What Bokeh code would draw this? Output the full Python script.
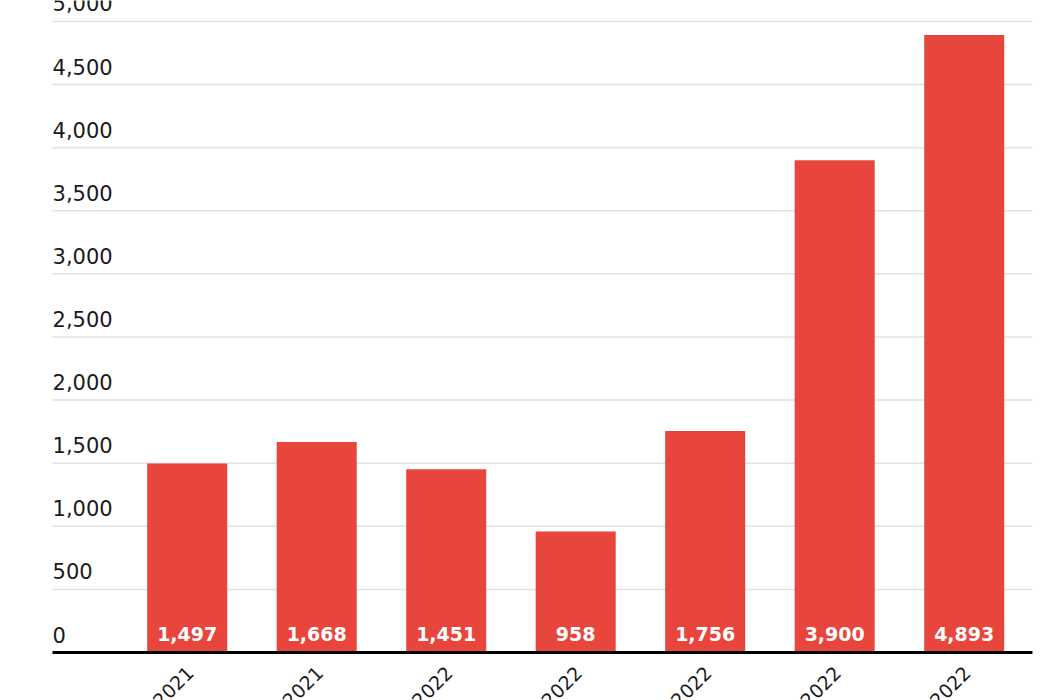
import math
from bokeh.plotting import figure
from bokeh.models import ColumnDataSource
from bokeh.core.properties import value
from bokeh.embed import file_html
from bokeh.resources import INLINE

# ---- data ----
categories = ["Nov 2021", "Dec 2021", "Jan 2022", "Feb 2022", "Mar 2022", "Apr 2022", "May 2022"]
counts = [1497, 1668, 1451, 958, 1756, 3900, 4893]
y_ticks = [0, 500, 1000, 1500, 2000, 2500, 3000, 3500, 4000, 4500, 5000]
y_tick_labels = [f"{t:,}" for t in y_ticks]

BAR_RED = "#e8453c"
GRID = "#e2e2e2"
TEXT = "#1a1a1a"

xs = list(range(len(categories)))

p = figure(
    width=1050, height=700,
    x_range=(-1.4417, 6.6664), y_range=(-380.3, 5166),
    output_backend="svg", toolbar_location=None,
    x_axis_type=None, y_axis_type=None,
    min_border=0, min_border_left=0, min_border_right=0,
    min_border_top=0, min_border_bottom=0,
)
p.outline_line_color = None
p.xgrid.visible = False
p.ygrid.visible = False
p.background_fill_color = "white"
p.border_fill_color = "white"

GX0, GX1 = -1.040, 6.527

# gridlines
p.segment(x0=[GX0] * len(y_ticks[1:]), x1=[GX1] * len(y_ticks[1:]),
          y0=y_ticks[1:], y1=y_ticks[1:], line_color=GRID, line_width=1.5)

# bars
src = ColumnDataSource(dict(x=xs, top=counts, lab=[f"{c:,}" for c in counts], cat=categories))
p.vbar(x="x", top="top", width=0.618, source=src, fill_color=BAR_RED, line_color=None)

# axis baseline
p.segment(x0=[GX0], x1=[GX1], y0=[0], y1=[0], line_color="black", line_width=3)

# y tick labels above gridlines
p.text(x=[GX0] * len(y_ticks), y=y_ticks, text=y_tick_labels,
       text_align="left", text_baseline="alphabetic", y_offset=-18,
       text_color=TEXT, text_font=value("DejaVu Sans"), text_font_size="21px")

# in-bar value labels
p.text(x="x", y=0, text="lab", source=src,
       text_align="center", text_baseline="alphabetic", y_offset=-19,
       text_color="white", text_font=value("DejaVu Sans"), text_font_style="bold",
       text_font_size="19px")

# rotated category labels
p.text(x="x", y=0, text="cat", source=src, angle=math.pi / 4,
       text_align="right", text_baseline="middle", x_offset=3, y_offset=17,
       text_color=TEXT, text_font=value("DejaVu Sans"), text_font_size="19px")

open("out.html", "w").write(file_html(p, INLINE))
